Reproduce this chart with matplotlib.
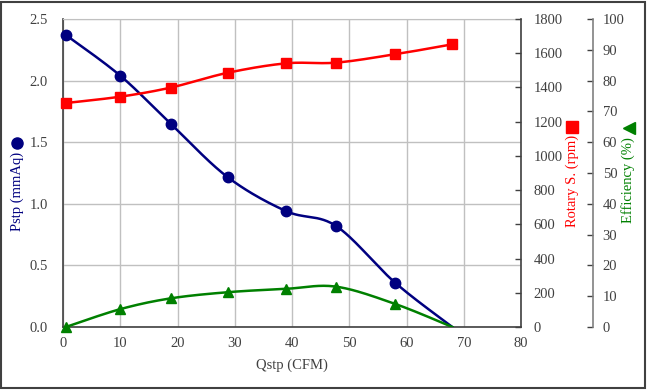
import numpy as np
import matplotlib as mpl
import matplotlib.pyplot as plt
from matplotlib.lines import Line2D
from matplotlib.patches import Rectangle

mpl.rcParams['font.family'] = 'Liberation Serif'
fs = 10.5
dpi = 100
TXTCOLOR = '#404040'
GRIDCOLOR = '#c0c0c0'

# data
qstp = [0.5, 10, 18.8, 28.8, 39, 47.7, 58, 68]
pstp = [2.37, 2.04, 1.65, 1.215, 0.94, 0.82, 0.36, 0.0]
rpm = [1309, 1346, 1399, 1486, 1541, 1545, 1594, 1652]
eff = [0.0, 5.8, 9.3, 11.3, 12.4, 13.1, 7.5, 0.0]

XMAX, PMAX, RMAX, EMAX = 80, 2.5, 1800, 100
AXW, AXH = 458, 308  # plot area in pixels, used to smooth in screen space


def smooth(x, y, ymax, n=30):
    # excel-like smoothed line: bezier with control points (P[i+1]-P[i-1])/6
    px = np.asarray(x, float) / XMAX * AXW
    py = np.asarray(y, float) / ymax * AXH
    P = np.column_stack([px, py])
    P = np.vstack([P[0], P, P[-1]])
    out = []
    t = np.linspace(0, 1, n)[:, None]
    for i in range(1, len(P) - 2):
        p0, p3 = P[i], P[i + 1]
        c1 = p0 + (P[i + 1] - P[i - 1]) / 6
        c2 = p3 - (P[i + 2] - P[i]) / 6
        seg = ((1 - t) ** 3) * p0 + 3 * ((1 - t) ** 2) * t * c1 \
            + 3 * (1 - t) * t ** 2 * c2 + t ** 3 * p3
        out.append(seg if i == 1 else seg[1:])
    out = np.vstack(out)
    return out[:, 0] / AXW * XMAX, out[:, 1] / AXH * ymax


fig = plt.figure(figsize=(6.47, 3.90), dpi=dpi)
ax = fig.add_axes([63 / 647, 63 / 390, 458 / 647, 308 / 390])
ax2 = ax.twinx()
ax3 = ax.twinx()

# pressure curve
sx, sy = smooth(qstp, pstp, PMAX)
ax.plot(sx, sy, color='#000080', lw=1.8, zorder=3)
ax.plot(qstp[:-1], pstp[:-1], 'o', color='#000080', markersize=7.5,
        zorder=4, clip_on=False)

# rotary speed curve
sx, sy = smooth(qstp, rpm, RMAX)
ax2.plot(sx, sy, color='#ff0000', lw=1.8, zorder=3)
ax2.plot(qstp, rpm, 's', color='#ff0000', markersize=7, zorder=4,
         clip_on=False)

# efficiency curve
sx, sy = smooth(qstp, eff, EMAX)
ax3.plot(sx, sy, color='#008000', lw=1.8, zorder=3)
ax3.plot(qstp[:-1], eff[:-1], '^', color='#008000', markersize=7.5,
         zorder=4, clip_on=False)

ax.set_xlim(0, XMAX)
ax.set_ylim(0, PMAX)
ax2.set_ylim(0, RMAX)
ax3.set_ylim(0, EMAX)

ax.set_xticks(np.arange(0, 81, 10))
ax.set_yticks(np.arange(0, 2.51, 0.5))
ax.yaxis.set_major_formatter(mpl.ticker.FormatStrFormatter('%.1f'))
ax2.set_yticks(np.arange(0, 1801, 200))
ax3.set_yticks(np.arange(0, 101, 10))

ax.grid(True, color=GRIDCOLOR, lw=1)
ax.set_axisbelow(True)

ax.tick_params(axis='x', length=0, pad=7, labelsize=fs, labelcolor=TXTCOLOR)
ax.tick_params(axis='y', length=0, pad=11, labelsize=fs, labelcolor=TXTCOLOR)
ax2.tick_params(axis='y', direction='in', length=4, pad=9, width=1,
                color='#404040', labelsize=fs, labelcolor=TXTCOLOR)
ax3.tick_params(axis='y', direction='in', length=4, pad=7, width=1,
                color='#404040', labelsize=fs, labelcolor=TXTCOLOR)

for a in (ax, ax2, ax3):
    for s in a.spines.values():
        s.set_visible(False)
for side in ('left', 'bottom'):
    ax.spines[side].set_visible(True)
    ax.spines[side].set_color('#404040')
    ax.spines[side].set_linewidth(1.2)
ax.spines['top'].set_visible(True)
ax.spines['top'].set_color(GRIDCOLOR)
ax2.spines['right'].set_visible(True)
ax2.spines['right'].set_color('#404040')
ax2.spines['right'].set_linewidth(1.2)
ax3.spines['right'].set_visible(True)
ax3.spines['right'].set_position(('axes', 530 / 458))
ax3.spines['right'].set_color('#808080')
ax3.spines['right'].set_linewidth(1.2)

ax.set_xlabel('Qstp (CFM)', fontsize=fs, color=TXTCOLOR, labelpad=6)

# axis titles with their marker keys (rotated with the text)
fig.text(17 / 647, 0.509, 'Pstp (mmAq)', rotation=90, ha='center',
         va='center', fontsize=fs, color='#000080')
fig.add_artist(Line2D([17 / 647], [1 - 143 / 390], marker='o', color='#000080',
                      markersize=8, transform=fig.transFigure))
fig.text(572 / 647, 0.535, 'Rotary S. (rpm)', rotation=90, ha='center',
         va='center', fontsize=fs, color='#ff0000')
fig.add_artist(Line2D([572 / 647], [1 - 127 / 390], marker='s', color='#ff0000',
                      markersize=8, transform=fig.transFigure))
fig.text(628 / 647, 0.538, 'Efficiency (%)', rotation=90, ha='center',
         va='center', fontsize=fs, color='#008000')
fig.add_artist(Line2D([629 / 647], [1 - 128 / 390], marker='<', color='#008000',
                      markersize=8, transform=fig.transFigure))

# outer frame
fig.add_artist(Rectangle((0.002, 0.004), 0.995, 0.992, fill=False,
                         edgecolor='#404040', lw=1.5,
                         transform=fig.transFigure))

fig.savefig('out.png', dpi=dpi)
